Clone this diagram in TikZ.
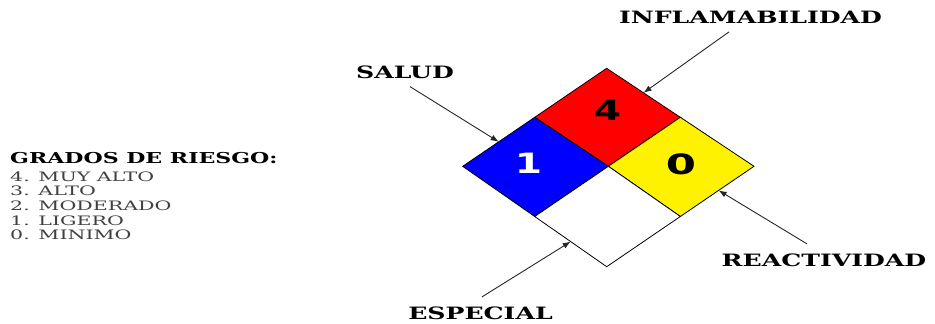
\documentclass[tikz,border=0pt]{standalone}
\usepackage{fontspec}
\setmainfont{DejaVu Serif}
\newfontfamily\digitfont{DejaVu Sans}
\usetikzlibrary{arrows.meta,calc}
\newcommand{\ancho}[2][1.45]{\scalebox{#1}[1]{#2}}

\begin{document}
\begin{tikzpicture}[x=1pt,y=-1pt,
  titulo/.style={font=\bfseries\fontsize{17}{17}\selectfont,inner sep=0pt},
  leyenda/.style={font=\bfseries\fontsize{15}{15}\selectfont,inner sep=0pt,anchor=west},
  riesgo/.style={font=\fontsize{13}{13}\selectfont,text=black!75,inner sep=0pt,anchor=west},
  numero/.style={font=\digitfont\bfseries\fontsize{28}{28}\selectfont,inner sep=0pt},
  flecha/.style={draw=black!85,line width=0.9pt,-{Latex[length=8pt,width=6pt]}},
  rombo/.style={draw=black,line width=0.8pt,line join=miter}]
  \useasboundingbox (0,0) rectangle (935,324);
  \coordinate (T) at (606.7,68.3);
  \coordinate (L) at (462.7,166.3);
  \coordinate (R) at (754,166.3);
  \coordinate (B) at (606.7,266.7);
  \coordinate (C) at ($(L)!0.5!(R)$);
  \coordinate (LT) at ($(L)!0.5!(T)$);
  \coordinate (RT) at ($(R)!0.5!(T)$);
  \coordinate (LB) at ($(L)!0.5!(B)$);
  \coordinate (RB) at ($(R)!0.5!(B)$);
  \filldraw[rombo,fill=red] (T) -- (RT) -- (C) -- (LT) -- cycle;
  \filldraw[rombo,fill=blue] (L) -- (LT) -- (C) -- (LB) -- cycle;
  \filldraw[rombo,fill=yellow] (R) -- (RT) -- (C) -- (RB) -- cycle;
  \filldraw[rombo,fill=white] (B) -- (LB) -- (C) -- (RB) -- cycle;
  \node[numero] (inflam) at (607.5,110) {\ancho[1.4]{4}};
  \node[numero,text=white] (salu) at (528.5,163) {\ancho[1.4]{1}};
  \node[numero] (react) at (681,164) {\ancho[1.55]{0}};

  \node[titulo] (salud) at (405,72) {\ancho[1.48]{SALUD}};
  \node[titulo] (inflamabilidad) at (750.5,17.5) {\ancho[1.48]{INFLAMABILIDAD}};
  \node[titulo] (especial) at (480.5,313.5) {\ancho[1.48]{ESPECIAL}};
  \node[titulo] (reactividad) at (824,260.5) {\ancho[1.48]{REACTIVIDAD}};

  \coordinate (pSalud) at ($(L)!0.25!(T)$);
  \coordinate (pInflam) at ($(T)!0.25!(R)$);
  \coordinate (pReact) at ($(R)!0.24!(B)$);
  \coordinate (pEspec) at ($(L)!0.75!(B)$);
  \draw[flecha] ([shift={(5,8)}]salud.south) -- (pSalud);
  \draw[flecha] ([shift={(-21.5,8)}]inflamabilidad.south) -- (pInflam);
  \draw[flecha] ([shift={(1.5,-10)}]especial.north) -- (pEspec);
  \draw[flecha] ([shift={(-17,-10)}]reactividad.north) -- (pReact);

  \node[leyenda] (grados) at (10,158) {\ancho[1.47]{GRADOS DE RIESGO:}};
  \foreach \n/\t [count=\i] in {4/MUY ALTO,3/ALTO,2/MODERADO,1/LIGERO,0/MINIMO}
    \node[riesgo] (grado\n) at (10,{162+14.6*\i}) {\ancho[1.58]{\n. \t}};
\end{tikzpicture}
\end{document}
